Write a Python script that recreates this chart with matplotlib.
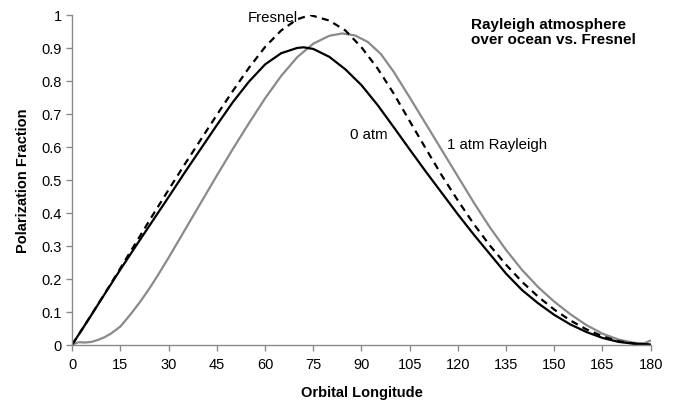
import matplotlib
matplotlib.use("Agg")
import matplotlib.pyplot as plt

plt.rcParams["font.family"] = ["Liberation Sans", "DejaVu Sans"]

# Fresnel reflection (dashed)
fresnel_x = [0, 5, 10, 15, 20, 25, 30, 35, 40, 45, 50, 55, 60, 65, 70, 74, 80, 85, 90, 95,
             100, 105, 110, 115, 120, 125, 130, 135, 140, 145, 150, 155, 160, 165, 170, 175, 180]
fresnel_y = [0, 0.076, 0.153, 0.232, 0.312, 0.392, 0.47, 0.547, 0.622, 0.697, 0.77, 0.84, 0.903,
             0.953, 0.987, 1.0, 0.983, 0.953, 0.902, 0.838, 0.762, 0.678, 0.595, 0.513, 0.437,
             0.365, 0.3, 0.242, 0.19, 0.145, 0.106, 0.073, 0.046, 0.025, 0.01, 0.003, 0]

# 0 atm (solid black)
atm0_x = [0, 5, 10, 15, 20, 25, 30, 35, 40, 45, 50, 55, 60, 65, 70, 72, 75, 80, 85, 90, 95,
          100, 105, 110, 115, 120, 125, 130, 135, 140, 145, 150, 155, 160, 165, 170, 175, 180]
atm0_y = [0, 0.075, 0.152, 0.228, 0.302, 0.375, 0.448, 0.522, 0.594, 0.666, 0.736, 0.798,
          0.85, 0.884, 0.9, 0.902, 0.897, 0.873, 0.835, 0.787, 0.727, 0.66, 0.592, 0.525,
          0.46, 0.395, 0.333, 0.274, 0.215, 0.165, 0.125, 0.09, 0.061, 0.038, 0.02, 0.008,
          0.002, 0]

# 1 atm Rayleigh (gray)
atm1_x = [0, 2, 4, 6, 8, 10, 12, 15, 18, 21, 24, 27, 30, 35, 40, 45, 50, 55, 60, 65, 70, 75, 80,
          84, 88, 92, 96, 100, 105, 110, 115, 120, 125, 130, 135, 140, 145, 150, 155, 160, 165,
          170, 175, 178, 180]
atm1_y = [0, 0.007, 0.006, 0.008, 0.014, 0.022, 0.033, 0.055, 0.09, 0.128, 0.17, 0.216, 0.264,
          0.347, 0.43, 0.513, 0.594, 0.672, 0.747, 0.815, 0.872, 0.913, 0.937, 0.944, 0.938,
          0.918, 0.882, 0.828, 0.75, 0.67, 0.59, 0.51, 0.43, 0.355, 0.287, 0.226, 0.174, 0.13,
          0.092, 0.059, 0.033, 0.015, 0.005, 0.004, 0.012]

x_ticks = list(range(0, 181, 15))
y_ticks = [0, 0.1, 0.2, 0.3, 0.4, 0.5, 0.6, 0.7, 0.8, 0.9, 1]
y_tick_labels = ["0", "0.1", "0.2", "0.3", "0.4", "0.5", "0.6", "0.7", "0.8", "0.9", "1"]

fig = plt.figure(figsize=(6.78, 4.02), dpi=100)
ax = fig.add_axes([0.1066, 0.1405, 0.8531, 0.8197])

ax.plot(atm1_x, atm1_y, color="#8a8a8a", lw=1.6)
ax.plot(atm0_x, atm0_y, color="black", lw=1.6)
ax.plot(fresnel_x, fresnel_y, color="black", lw=1.6, ls=(0, (3.2, 2.4)))

ax.set_xlim(0, 180)
ax.set_ylim(0, 1)
ax.set_xticks(x_ticks)
ax.set_yticks(y_ticks)
ax.set_yticklabels(y_tick_labels)

for side in ["top", "right"]:
    ax.spines[side].set_visible(False)
for side in ["left", "bottom"]:
    ax.spines[side].set_color("#8a8a8a")
    ax.spines[side].set_linewidth(1.0)
ax.tick_params(axis="both", colors="#8a8a8a", labelcolor="black", labelsize=10.5,
               length=4, width=1.0, direction="out")
ax.tick_params(axis="x", pad=5)

ax.set_xlabel("Orbital Longitude", fontsize=10.5, fontweight="bold", labelpad=10)
ax.set_ylabel("Polarization Fraction", fontsize=10.5, fontweight="bold", labelpad=8)

ax.text(54.5, 0.993, "Fresnel", fontsize=10.8, ha="left", va="center")
ax.text(124, 0.995, "Rayleigh atmosphere\nover ocean vs. Fresnel", fontsize=11,
        fontweight="bold", ha="left", va="top", linespacing=1.1)
ax.text(86.5, 0.64, "0 atm", fontsize=10.8, ha="left", va="center")
ax.text(116.5, 0.61, "1 atm Rayleigh", fontsize=10.8, ha="left", va="center")

fig.savefig("out.png", dpi=100)
